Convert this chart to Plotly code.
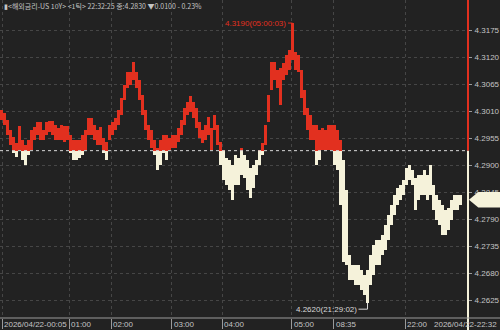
import plotly.graph_objects as go

# ---- data (per-tick bar high / low) ----
highs = [4.3013, 4.3006, 4.2992, 4.2972, 4.2958, 4.2945, 4.2980, 4.2951, 4.2941, 4.2951,
         4.2972, 4.2978, 4.2988, 4.2988, 4.2972, 4.2988, 4.2990, 4.2990, 4.2982, 4.2976,
         4.2982, 4.2980, 4.2980, 4.2962, 4.2951, 4.2951, 4.2951, 4.2962, 4.2972, 4.2996,
         4.2996, 4.2982, 4.2972, 4.2978, 4.2955, 4.2947, 4.2982, 4.2988, 4.2996, 4.3013,
         4.3037, 4.3063, 4.3090, 4.3090, 4.3110, 4.3090, 4.3074, 4.3043, 4.3013, 4.2982,
         4.2972, 4.2951, 4.2935, 4.2951, 4.2962, 4.2962, 4.2955, 4.2962, 4.2962, 4.2976,
         4.2992, 4.3017, 4.3029, 4.3041, 4.3029, 4.3017, 4.2988, 4.2972, 4.2982, 4.2998,
         4.2976, 4.3002, 4.2982, 4.2947, 4.2931, 4.2915, 4.2911, 4.2900, 4.2921, 4.2915,
         4.2935, 4.2921, 4.2911, 4.2894, 4.2900, 4.2911, 4.2931, 4.2945, 4.2982, 4.3043,
         4.3110, 4.3110, 4.3094, 4.3098, 4.3108, 4.3125, 4.3135, 4.3190, 4.3131, 4.3125,
         4.3094, 4.3053, 4.3017, 4.3002, 4.2982, 4.2982, 4.2972, 4.2976, 4.2972, 4.2982,
         4.2982, 4.2982, 4.2972, 4.2951, 4.2911, 4.2850, 4.2717, 4.2697, 4.2697, 4.2697,
         4.2687, 4.2676, 4.2687, 4.2717, 4.2738, 4.2748, 4.2748, 4.2758, 4.2778, 4.2799,
         4.2819, 4.2839, 4.2854, 4.2860, 4.2870, 4.2894, 4.2900, 4.2890, 4.2874, 4.2880,
         4.2880, 4.2890, 4.2880, 4.2900, 4.2860, 4.2839, 4.2829, 4.2819, 4.2809, 4.2813,
         4.2829, 4.2839, 4.2839, 4.2839]
lows = [4.2992, 4.2982, 4.2962, 4.2941, 4.2927, 4.2917, 4.2931, 4.2911, 4.2900, 4.2921,
        4.2931, 4.2951, 4.2962, 4.2951, 4.2951, 4.2962, 4.2968, 4.2962, 4.2951, 4.2951,
        4.2951, 4.2947, 4.2951, 4.2927, 4.2911, 4.2911, 4.2915, 4.2921, 4.2931, 4.2962,
        4.2962, 4.2951, 4.2941, 4.2941, 4.2927, 4.2911, 4.2951, 4.2962, 4.2972, 4.2982,
        4.3002, 4.3033, 4.3057, 4.3063, 4.3074, 4.3057, 4.3033, 4.3002, 4.2972, 4.2951,
        4.2935, 4.2921, 4.2890, 4.2900, 4.2927, 4.2911, 4.2931, 4.2935, 4.2935, 4.2947,
        4.2962, 4.2982, 4.3002, 4.3008, 4.2996, 4.2976, 4.2955, 4.2945, 4.2951, 4.2962,
        4.2931, 4.2972, 4.2941, 4.2900, 4.2870, 4.2860, 4.2850, 4.2829, 4.2860, 4.2860,
        4.2880, 4.2874, 4.2850, 4.2833, 4.2854, 4.2880, 4.2900, 4.2921, 4.2941, 4.2988,
        4.3053, 4.3074, 4.3057, 4.3023, 4.3074, 4.3084, 4.3094, 4.3114, 4.3094, 4.3090,
        4.3037, 4.3002, 4.2972, 4.2951, 4.2951, 4.2900, 4.2911, 4.2931, 4.2931, 4.2931,
        4.2931, 4.2900, 4.2890, 4.2819, 4.2703, 4.2697, 4.2666, 4.2666, 4.2656, 4.2656,
        4.2646, 4.2636, 4.2620, 4.2656, 4.2676, 4.2697, 4.2697, 4.2717, 4.2727, 4.2748,
        4.2778, 4.2799, 4.2819, 4.2829, 4.2839, 4.2860, 4.2870, 4.2860, 4.2809, 4.2829,
        4.2839, 4.2839, 4.2829, 4.2839, 4.2809, 4.2788, 4.2778, 4.2758, 4.2758, 4.2768,
        4.2788, 4.2809, 4.2809, 4.2819]
prev_close = 4.2930
last_price = 4.2830
peak_label = "4.3190(05:00:03)"
low_label = "4.2620(21:29:02)"
header = "▮<해외금리-US 10Y> <1틱> 22:32:25 종:4.2830 ▼0.0100 - 0.23%"
x_tick_idx = [0.2, 22.5, 36.5, 56.8, 73.5, 96.8, 110.8, 134.5]
x_tick_text = ["2026/04/22-00:05", "01:00", "02:00", "03:00", "04:00", "05:00", "08:35", "22:00"]
end_label = "2026/04/22-22:32"
y_ticks = [4.3175, 4.3120, 4.3065, 4.3010, 4.2955, 4.2900, 4.2845, 4.2790, 4.2735, 4.2680, 4.2625]

# ---- styling ----
BG = "#222222"
RED = "#e2301f"
CREAM = "#f5f2da"
GRID = "#464646"
TXT = "#c4c4c4"
FONT = "Liberation Sans Narrow, Arial Narrow, Liberation Sans, sans-serif"
W, H = 500, 330
ML, MR, MT, MB = 0, 32, 0, 12
plot_w = W - ML - MR
ph = H - MT - MB

n = len(highs)
xs = list(range(n))
B = prev_close
red_base = [max(l, B) for l in lows]
red_h = [max(h, B) - max(l, B) for h, l in zip(highs, lows)]
cr_base = [min(l, B) for l in lows]
cr_h = [min(h, B) - min(l, B) for h, l in zip(highs, lows)]

fig = go.Figure()
fig.add_trace(go.Bar(x=xs, y=red_h, base=red_base, width=1.0, marker=dict(color=RED, line=dict(width=0)),
                     hoverinfo="skip", showlegend=False))
fig.add_trace(go.Bar(x=xs, y=cr_h, base=cr_base, width=1.0, marker=dict(color=CREAM, line=dict(width=0)),
                     hoverinfo="skip", showlegend=False))

# baseline (previous close)
fig.add_trace(go.Scatter(x=[-0.5, n + 1.5], y=[B, B], mode="lines",
                         line=dict(color="#d8d8d8", width=1, dash="dot"),
                         hoverinfo="skip", showlegend=False))

# peak / low connectors (L-shaped)
pk = highs.index(max(highs))
lw = lows.index(min(lows))
fig.add_trace(go.Scatter(x=[pk - 1.5, pk, pk], y=[max(highs), max(highs), highs[pk]], mode="lines",
                         line=dict(color=RED, width=1), hoverinfo="skip", showlegend=False))
low_y_lbl = min(lows) - 0.0013
fig.add_trace(go.Scatter(x=[lw - 3, lw, lw], y=[low_y_lbl, low_y_lbl, min(lows)], mode="lines",
                         line=dict(color="#d8d8d8", width=1), hoverinfo="skip", showlegend=False))

lbl_y = -6.5 / ph
annotations = [
    dict(x=pk - 1.5, y=max(highs), xref="x", yref="y", text=peak_label, showarrow=False,
         xanchor="right", yanchor="middle", font=dict(color=RED, size=8, family=FONT)),
    dict(x=lw - 3, y=low_y_lbl, xref="x", yref="y", text=low_label, showarrow=False,
         xanchor="right", yanchor="middle", font=dict(color="#d8d8d8", size=8, family=FONT)),
    dict(x=0.004, y=1 - 6 / ph, xref="paper", yref="paper", text=header, showarrow=False,
         xanchor="left", yanchor="middle", font=dict(color=TXT, size=7, family="Noto Sans CJK KR, sans-serif")),
    dict(x=(W - 1) / plot_w, y=lbl_y, xref="paper", yref="paper", text=end_label, showarrow=False,
         xanchor="right", yanchor="middle", font=dict(color=TXT, size=8, family=FONT)),
]
for xi, t in zip(x_tick_idx, x_tick_text):
    annotations.append(dict(x=xi, y=lbl_y, xref="x", yref="paper", text=t, showarrow=False,
                            xanchor="left", yanchor="middle",
                            font=dict(color=TXT, size=8, family=FONT)))

shapes = [
    # right axis line: red above prev close, cream below
    dict(type="line", xref="paper", yref="y", x0=1, x1=1, y0=B, y1=4.3240, line=dict(color=RED, width=2)),
    dict(type="line", xref="paper", yref="paper", x0=1, x1=1, y0=-MB / ph, y1=0, line=dict(color=CREAM, width=2)),
    dict(type="line", xref="paper", yref="y", x0=1, x1=1, y0=4.2589, y1=B, line=dict(color=CREAM, width=2)),
    # bottom axis line
    dict(type="line", xref="paper", yref="paper", x0=0, x1=W / plot_w, y0=0, y1=0, line=dict(color="#9a9a9a", width=1)),
    # current price marker
    dict(type="path", xref="paper", yref="y",
         path=f"M {1.002} {last_price} L {1.022} {last_price + 0.0016} L {1.07} {last_price + 0.0016} "
              f"L {1.07} {last_price - 0.0016} L {1.022} {last_price - 0.0016} Z",
         fillcolor=CREAM, line=dict(width=0), layer="above"),
]

fig.update_layout(
    width=W, height=H, margin=dict(l=ML, r=MR, t=MT, b=MB),
    paper_bgcolor=BG, plot_bgcolor=BG, barmode="overlay", bargap=0,
    showlegend=False, annotations=annotations, shapes=shapes,
    xaxis=dict(range=[-0.5, 155.5], tickvals=x_tick_idx, ticktext=[""] * len(x_tick_idx),
               showticklabels=False, ticks="outside", ticklen=10, tickcolor="#9a9a9a", tickwidth=1,
               showgrid=True, gridcolor=GRID, griddash="dot", gridwidth=1, zeroline=False, showline=False,
               fixedrange=True),
    yaxis=dict(range=[4.2589, 4.3237], side="right", tickvals=y_ticks, tickformat=".4f",
               ticks="outside", ticklen=3, tickcolor="#9a9a9a",
               tickfont=dict(color=TXT, size=8, family=FONT), ticklabelstandoff=1,
               showgrid=True, gridcolor=GRID, griddash="dot", gridwidth=1, zeroline=False, showline=False,
               fixedrange=True),
)

fig.write_html("out.html")
